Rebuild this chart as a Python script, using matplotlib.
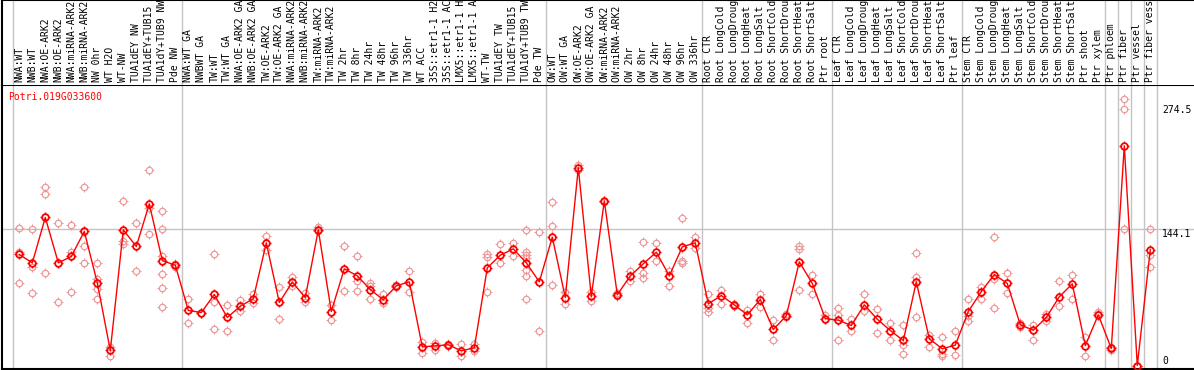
import numpy as np
import matplotlib as mlt
mlt.use('Agg')
import matplotlib.pyplot as plt
from matplotlib.path import Path

# sample labels, left to right
labels = [
    'NWA:WT', 'NWB:WT', 'NWA:OE-ARK2', 'NWB:OE-ARK2', 'NWA:miRNA-ARK2', 'NWB:miRNA-ARK2',
    'NW 0hr', 'WT H2O', 'WT-NW', 'TUA1dEY NW', 'TUA1dEY+TUB15 NW', 'TUA1dY+TUB9 NW', 'Pde NW',
    'NWA:WT GA', 'NWBWT GA', 'TW:WT', 'TW:WT GA', 'NWA:OE-ARK2 GA', 'NWB:OE-ARK2 GA',
    'TW:OE-ARK2', 'TW:OE-ARK2 GA', 'NWA:miRNA-ARK2 GA', 'NWB:miRNA-ARK2 GA', 'TW:miRNA-ARK2',
    'TW:miRNA-ARK2 GA', 'TW 2hr', 'TW 8hr', 'TW 24hr', 'TW 48hr', 'TW 96hr', 'TW 336hr',
    'WT ACC', '35S::etr1-1 H2O', '35S::etr1-1 ACC', 'LMX5::etr1-1 H2O', 'LMX5::etr1-1 ACC',
    'WT-TW', 'TUA1dEY TW', 'TUA1dEY+TUB15 TW', 'TUA1dY+TUB9 TW', 'Pde TW',
    'OW:WT', 'OW:WT GA', 'OW:OE-ARK2', 'OW:OE-ARK2 GA', 'OW:miRNA-ARK2', 'OW:miRNA-ARK2 GA',
    'OW 2hr', 'OW 8hr', 'OW 24hr', 'OW 48hr', 'OW 96hr', 'OW 336hr',
    'Root CTR', 'Root LongCold', 'Root LongDrought', 'Root LongHeat', 'Root LongSalt',
    'Root ShortCold', 'Root ShortDrought', 'Root ShortHeat', 'Root ShortSalt', 'Ptr root',
    'Leaf CTR', 'Leaf LongCold', 'Leaf LongDrought', 'Leaf LongHeat', 'Leaf LongSalt',
    'Leaf ShortCold', 'Leaf ShortDrought', 'Leaf ShortHeat', 'Leaf ShortSalt', 'Ptr leaf',
    'Stem CTR', 'Stem LongCold', 'Stem LongDrought', 'Stem LongHeat', 'Stem LongSalt',
    'Stem ShortCold', 'Stem ShortDrought', 'Stem ShortHeat', 'Stem ShortSalt', 'Ptr shoot',
    'Ptr xylem', 'Ptr phloem', 'Ptr fiber', 'Ptr vessel', 'Ptr fiber vessel',
]

# mean expression per sample
means = [
    116.8, 108.0, 155.7, 108.0, 114.7, 141.0, 87.0, 15.8, 142.7, 125.2, 170.0, 110.4, 105.5,
    57.9, 55.7, 74.7, 50.5, 62.4, 70.2, 129.0, 66.3, 87.7, 71.5, 142.7, 56.8, 101.7, 94.3,
    79.9, 69.1, 83.8, 88.0, 19.6, 20.7, 21.8, 15.4, 18.6, 102.8, 116.0, 122.7, 108.0, 88.0,
    135.0, 71.5, 207.9, 72.6, 173.2, 74.4, 94.3, 107.0, 119.2, 94.3, 124.8, 129.0,
    64.9, 73.6, 63.8, 53.3, 69.4, 37.9, 52.3, 109.0, 86.3, 49.4,
    47.7, 42.1, 63.8, 48.7, 36.8, 26.3, 88.0, 28.1, 17.6, 21.4,
    56.8, 77.8, 95.7, 86.3, 42.8, 37.1, 50.5, 72.3, 85.9, 21.0, 53.3,
    17.9, 231.1, 0.0, 122.0,
]

# individual replicates per sample
reps = [
    [144.8, 118.9, 87.0], [144.0, 103.4, 76.5], [188.0, 180.6, 97.8], [150.0, 67.3],
    [148.3, 118.9, 77.8], [188.0, 126.2, 108.3], [108.3, 90.8, 80.0, 70.2], [19.3, 9.8],
    [173.2, 130.8, 127.3], [150.0, 99.6], [206.0, 165.9, 138.5],
    [162.7, 144.1, 115.0, 96.4, 81.7, 61.7], [107.0, 104.0],
    [70.2, 44.9], [55.7, 55.0], [117.8, 66.3, 38.9], [63.8, 36.8], [68.4, 57.5],
    [74.7, 66.0], [136.7, 121.3], [82.8, 49.4], [92.6, 83.4], [76.0, 67.3], [145.5, 142.0],
    [63.8, 48.1], [125.9, 78.6], [115.4, 89.1, 78.6], [87.3, 84.0, 70.2], [75.7, 66.0],
    [84.9, 83.0], [99.6, 76.8], [24.5, 13.4], [23.9, 16.5], [22.5, 21.0], [22.1, 10.5],
    [22.1, 15.4], [117.8, 114.3, 77.5], [128.0, 108.0], [129.0, 115.4],
    [142.7, 119.6, 116.4, 113.3, 100.7, 94.0, 70.2], [140.6, 35.8],
    [172.5, 146.9, 84.9], [77.5, 64.9], [211.4, 206.0], [76.8, 67.6], [173.2, 172.0],
    [76.0, 73.0], [99.6, 89.1], [130.1, 97.8, 92.2], [129.0, 110.1], [99.9, 83.8],
    [155.4, 109.7, 108.0], [135.0, 123.8],
    [75.7, 61.0, 56.1], [78.9, 64.9], [64.9, 63.0], [58.6, 44.9], [75.7, 61.3],
    [48.1, 27.3], [54.0, 51.0], [125.2, 122.7, 79.6], [95.7, 74.7], [52.6, 48.5],
    [60.3, 52.6, 27.3], [48.4, 36.1], [74.7, 57.5], [59.6, 34.4], [44.9, 27.3],
    [42.8, 21.8, 12.3], [118.5, 93.6, 51.2], [32.3, 19.7], [29.5, 12.3, 9.8], [35.8, 11.3],
    [70.2, 52.3, 47.3], [82.4, 69.7], [135.4, 90.8, 60.7], [97.8, 76.5], [44.5, 40.7],
    [42.8, 27.3], [54.0, 47.3], [88.4, 62.1], [94.7, 70.2], [30.5, 9.5], [56.1, 54.0],
    [15.8, 19.0], [280.5, 270.0, 143.8], [0.0, 0.0], [143.8, 116.0, 103.8],
]

# group boundaries (index before which a separator is drawn)
separators = [0, 13, 41, 53, 63, 73, 84, 85, 86, 87, 88]

gene = 'Potri.019G033600'
ytick_vals = [274.5, 144.1, 0]
ytick_text = ['274.5', '144.1', '0']

W, H = 1194, 370
FONT = 'DejaVu Sans Mono'
RED = '#ff0000'
PINK = '#ee9999'
GREY = '#c4c4c4'

# four little ticks sitting just outside the circle
tv, tc = [], []
for dx, dy in [(1, 0), (-1, 0), (0, 1), (0, -1)]:
    tv += [(dx * 0.72, dy * 0.72), (dx, dy)]
    tc += [Path.MOVETO, Path.LINETO]
ticks = Path(tv, tc)

# pixel -> index mapping: category i centred at 19.3 + 13*i px
x0, step = 19.3, 13.0
xlim = ((1.5 - x0) / step, (W - x0) / step)
# value -> pixel: y = 365.5 - v*0.9507
yscale, ybase = 0.9507, 365.5
ylim = ((ybase - 369) / yscale, (ybase - 85) / yscale)

fig = plt.figure(figsize=(W / 100, H / 100), dpi=100)
ax = fig.add_axes([1.5 / W, 1 - 369 / H, 1 - 1.5 / W, (369 - 85) / H])
hd = fig.add_axes([1.5 / W, 1 - 85 / H, 1 - 1.5 / W, 85 / H])

for a in (ax, hd):
    a.set_xlim(*xlim)
    a.set_xticks([])
    a.set_yticks([])
    for s in a.spines.values():
        s.set_color('black')
        s.set_linewidth(1.5)
    a.spines['right'].set_visible(False)
    for b in separators:
        a.axvline(b - 0.5, color=GREY, lw=1.0, zorder=0)
hd.set_ylim(0, 85)
hd.spines['bottom'].set_visible(False)
ax.set_ylim(*ylim)

ax.axhline(144.1, color=GREY, lw=1.0, zorder=0)

x = np.arange(len(labels))
for i, r in enumerate(reps):
    xs = [i] * len(r)
    ax.plot(xs, r, linestyle='none', marker='o', ms=4.6, mfc='none', mec=PINK,
            mew=0.9, zorder=2, clip_on=False)
    ax.plot(xs, r, linestyle='none', marker=ticks, ms=6.6, mec=PINK,
            mew=0.8, zorder=2, clip_on=False)
ax.plot(x, means, color=RED, lw=1.0, zorder=3)
ax.plot(x, means, linestyle='none', marker='o', ms=4.8, mfc='none', mec=RED,
        mew=1.3, zorder=4, clip_on=False)
ax.plot(x, means, linestyle='none', marker=ticks, ms=7.0, mec=RED,
        mew=1.0, zorder=4, clip_on=False)

for i, lab in enumerate(labels):
    hd.text(i, 3, lab, rotation=90, ha='center', va='bottom', fontsize=7,
            family=FONT, color='black')

ax.text(8.5 / W, 1 - 92 / H, gene, transform=fig.transFigure, ha='left', va='top',
        fontsize=7, family=FONT, color=RED)

xt = (1162 - x0) / step
for v, s in zip(ytick_vals, ytick_text):
    va = 'bottom' if v == 0 else 'top'
    yy = v if v != 0 else (ybase - 366) / yscale
    ax.text(xt, yy, s, ha='left', va=va, fontsize=7, family=FONT, color='black')

fig.savefig('out.png', dpi=100)
